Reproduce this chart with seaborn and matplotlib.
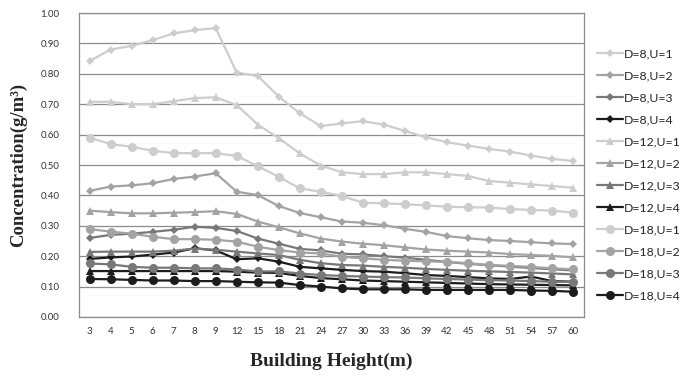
"""
Concentration against building height for 12 D/U combinations,
drawn as a grey-scale line chart with markers.
"""

import pandas as pd
import seaborn as sns
import matplotlib.pyplot as plt

heights = [3, 4, 5, 6, 7, 8, 9, 12, 15, 18, 21, 24, 27, 30, 33, 36,
           39, 42, 45, 48, 51, 54, 57, 60]

d8_u1 = [0.842, 0.880, 0.892, 0.911, 0.933, 0.944, 0.950, 0.804, 0.793,
         0.725, 0.670, 0.628, 0.637, 0.644, 0.633, 0.612, 0.591, 0.575,
         0.564, 0.553, 0.544, 0.531, 0.520, 0.513]
d8_u2 = [0.415, 0.429, 0.433, 0.440, 0.454, 0.462, 0.473, 0.412, 0.401,
         0.365, 0.342, 0.328, 0.314, 0.310, 0.302, 0.290, 0.280, 0.266,
         0.259, 0.253, 0.250, 0.246, 0.242, 0.240]
d8_u3 = [0.260, 0.270, 0.274, 0.280, 0.287, 0.297, 0.293, 0.283, 0.258,
         0.241, 0.224, 0.219, 0.208, 0.206, 0.200, 0.195, 0.188, 0.181,
         0.175, 0.170, 0.166, 0.161, 0.157, 0.153]
d8_u4 = [0.191, 0.196, 0.199, 0.205, 0.212, 0.226, 0.219, 0.190, 0.193,
         0.182, 0.165, 0.160, 0.155, 0.151, 0.149, 0.144, 0.138, 0.135,
         0.131, 0.127, 0.125, 0.133, 0.118, 0.116]
d12_u1 = [0.708, 0.708, 0.700, 0.700, 0.710, 0.720, 0.723, 0.697, 0.633,
          0.588, 0.538, 0.498, 0.476, 0.470, 0.470, 0.476, 0.476, 0.470,
          0.464, 0.447, 0.442, 0.436, 0.431, 0.425]
d12_u2 = [0.350, 0.345, 0.341, 0.341, 0.343, 0.345, 0.348, 0.339, 0.314,
          0.295, 0.275, 0.258, 0.248, 0.241, 0.236, 0.229, 0.222, 0.218,
          0.215, 0.212, 0.207, 0.204, 0.201, 0.196]
d12_u3 = [0.214, 0.215, 0.215, 0.215, 0.218, 0.225, 0.221, 0.215, 0.209,
          0.204, 0.188, 0.177, 0.171, 0.169, 0.165, 0.162, 0.158, 0.155,
          0.152, 0.150, 0.148, 0.146, 0.143, 0.140]
d12_u4 = [0.151, 0.151, 0.151, 0.151, 0.151, 0.151, 0.151, 0.149, 0.146,
          0.145, 0.135, 0.128, 0.124, 0.120, 0.118, 0.116, 0.114, 0.112,
          0.110, 0.108, 0.107, 0.106, 0.105, 0.104]
d18_u1 = [0.590, 0.569, 0.560, 0.547, 0.539, 0.539, 0.539, 0.530, 0.496,
          0.461, 0.423, 0.412, 0.398, 0.376, 0.374, 0.371, 0.367, 0.363,
          0.361, 0.360, 0.355, 0.352, 0.350, 0.343]
d18_u2 = [0.289, 0.281, 0.274, 0.264, 0.256, 0.256, 0.254, 0.248, 0.231,
          0.220, 0.212, 0.209, 0.198, 0.193, 0.188, 0.185, 0.183, 0.181,
          0.177, 0.171, 0.168, 0.165, 0.160, 0.157]
d18_u3 = [0.176, 0.173, 0.165, 0.162, 0.162, 0.160, 0.160, 0.156, 0.150,
          0.150, 0.143, 0.138, 0.135, 0.133, 0.131, 0.130, 0.127, 0.125,
          0.123, 0.121, 0.120, 0.118, 0.116, 0.115]
d18_u4 = [0.125, 0.124, 0.122, 0.120, 0.120, 0.118, 0.118, 0.116, 0.114,
          0.113, 0.105, 0.100, 0.094, 0.091, 0.091, 0.091, 0.089, 0.089,
          0.089, 0.089, 0.089, 0.087, 0.086, 0.083]

series = [
    ('D=8,U=1', d8_u1), ('D=8,U=2', d8_u2),
    ('D=8,U=3', d8_u3), ('D=8,U=4', d8_u4),
    ('D=12,U=1', d12_u1), ('D=12,U=2', d12_u2),
    ('D=12,U=3', d12_u3), ('D=12,U=4', d12_u4),
    ('D=18,U=1', d18_u1), ('D=18,U=2', d18_u2),
    ('D=18,U=3', d18_u3), ('D=18,U=4', d18_u4),
]

u_colors = {1: '#cdcdcd', 2: '#a3a3a3', 3: '#787878', 4: '#1c1c1c'}
d_markers = {8: ('D', 4), 12: ('^', 6), 18: ('o', 6.5)}

sns.set_style('white')
plt.rcParams['font.family'] = ['Lato', 'DejaVu Sans']

fig = plt.figure(figsize=(6.83, 3.76), dpi=100)
ax = fig.add_axes([0.1157, 0.157, 0.739, 0.8083])

grid_c = '#8c8c8c'
ax.set_ylim(0, 1.0)
ax.set_xlim(-0.5, len(heights) - 0.5)
ax.set_yticks([i / 10 for i in range(11)])
ax.yaxis.grid(True, color=grid_c, linewidth=0.9)
ax.set_axisbelow(True)

for name, vals in series:
    d = int(name.split(',')[0][2:])
    u = int(name.split('U=')[1])
    marker, ms = d_markers[d]
    df = pd.DataFrame({'pos': range(len(heights)), 'val': vals})
    sns.lineplot(data=df, x='pos', y='val', ax=ax, label=name,
                 color=u_colors[u], marker=marker, markersize=ms,
                 markeredgewidth=0, linewidth=1.6)

ax.set_xticks(range(len(heights)))
ax.set_xticklabels([str(h) for h in heights])
ax.set_yticklabels(['%.2f' % (i / 10) for i in range(11)])
ax.tick_params(axis='x', length=0, pad=7, labelsize=7, labelcolor='#333333')
ax.tick_params(axis='y', length=5, width=0.9, color=grid_c, pad=9,
               labelsize=7, labelcolor='#333333')

for sp in ax.spines.values():
    sp.set_color(grid_c)
    sp.set_linewidth(0.9)

ax.set_xlabel('Building Height(m)', family='Liberation Serif',
              fontweight='bold', fontsize=14, labelpad=12)
ax.set_ylabel('Concentration(g/m³)', family='Liberation Serif',
              fontweight='bold', fontsize=13.5, labelpad=10)

ax.get_legend().remove()
handles, labels = ax.get_legend_handles_labels()
fig.legend(handles, labels, loc='upper left', bbox_to_anchor=(0.874, 0.872),
           frameon=False, fontsize=8.8, handlelength=2.1, handletextpad=0.1,
           labelspacing=0.9, borderaxespad=0, borderpad=0)

plt.savefig('out.png', dpi=100)
